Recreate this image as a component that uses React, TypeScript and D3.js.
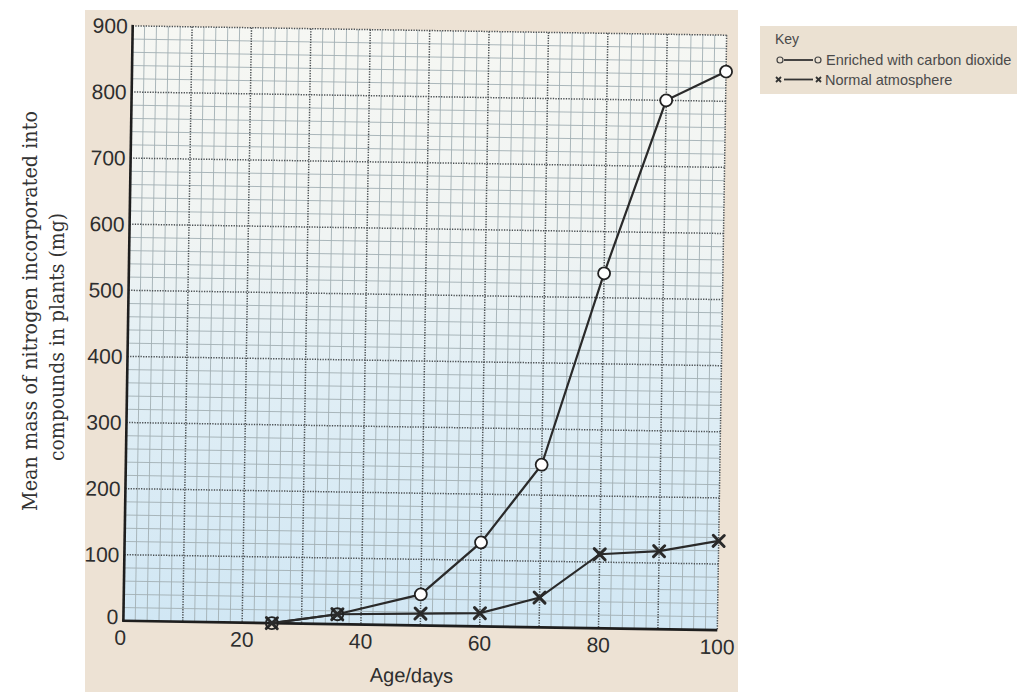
import React from "react";
import * as d3 from "d3";

const days = [25, 36, 50, 60, 70, 80, 90, 100];
const enrichedCO2 = [0, 15, 47, 127, 246, 537, 800, 845];
const normalAtmosphere = [0, 15, 18, 20, 45, 112, 118, 135];
const xTicks = [0, 20, 40, 60, 80, 100];
const yTicks = [0, 100, 200, 300, 400, 500, 600, 700, 800, 900];

const W = 1017;
const H = 692;
const L = 128, R = 722, T = 30.5, B = 625.5;
const cx = (L + R) / 2, cy = (T + B) / 2;
const ANGLE = 0.9;

export default function App() {
  const x = d3.scaleLinear().domain([0, 100]).range([L, R]);
  const y = d3.scaleLinear().domain([0, 900]).range([B, T]);
  const line = d3.line<[number, number]>().x(d => x(d[0])).y(d => y(d[1]));
  const co2Pts: [number, number][] = days.map((d, i) => [d, enrichedCO2[i]]);
  const normPts: [number, number][] = days.map((d, i) => [d, normalAtmosphere[i]]);
  const xGrid = d3.range(0, 101, 2);
  const yGrid = d3.range(0, 901, 20);
  const cross = (px: number, py: number, s: number, sw: number, k: string) => (
    <g key={k} stroke="#2a2a2a" strokeWidth={sw} strokeLinecap="round">
      <line x1={px - s} y1={py - s} x2={px + s} y2={py + s} />
      <line x1={px - s} y1={py + s} x2={px + s} y2={py - s} />
    </g>
  );
  const sans = "'Liberation Sans', Arial, sans-serif";
  return (
    <svg width={W} height={H} style={{ position: "absolute", left: 0, top: 0, display: "block" }}
      xmlns="http://www.w3.org/2000/svg">
      <defs>
        <linearGradient id="paperBlue" x1="0" y1="0" x2="0" y2="1">
          <stop offset="0%" stopColor="#f6f7f3" />
          <stop offset="35%" stopColor="#f0f4f3" />
          <stop offset="60%" stopColor="#e0eef5" />
          <stop offset="100%" stopColor="#d1e7f4" />
        </linearGradient>
      </defs>
      <rect x={0} y={0} width={W} height={H} fill="#ffffff" />
      <rect x={85} y={10} width={653} height={H - 10} fill="#ede2d4" />
      <g transform={`rotate(${ANGLE}, ${cx}, ${cy})`}>
        <rect x={L} y={T} width={R - L} height={B - T} fill="url(#paperBlue)" />
        {xGrid.filter(v => v % 10 !== 0).map(v => (
          <line key={"xm" + v} x1={x(v)} x2={x(v)} y1={T} y2={B} stroke="#a2afb4" strokeWidth={0.9} />
        ))}
        {yGrid.filter(v => v % 100 !== 0).map(v => (
          <line key={"ym" + v} x1={L} x2={R} y1={y(v)} y2={y(v)} stroke="#a2afb4" strokeWidth={0.9} />
        ))}
        {xGrid.filter(v => v % 10 === 0 && v > 0).map(v => (
          <line key={"xM" + v} x1={x(v)} x2={x(v)} y1={T} y2={B} stroke="#4a4f52" strokeWidth={1.5} strokeDasharray="1.3 1.3" />
        ))}
        {yGrid.filter(v => v % 100 === 0 && v > 0).map(v => (
          <line key={"yM" + v} x1={L} x2={R} y1={y(v)} y2={y(v)} stroke="#4a4f52" strokeWidth={1.5} strokeDasharray="1.3 1.3" />
        ))}
        <line x1={L} x2={L} y1={T - 1} y2={B + 1} stroke="#1e1e1e" strokeWidth={2.6} />
        <line x1={L - 1} x2={R} y1={B} y2={B} stroke="#1e1e1e" strokeWidth={2.6} />
        {yTicks.map(v => (
          <text key={"yt" + v} x={L - 5} y={y(v) - (v === 0 ? 4 : 0)} dy="0.36em" textAnchor="end" fontFamily={sans}
            fontSize={21} fill="#2e2e2e">{v}</text>
        ))}
        {xTicks.map(v => (
          <text key={"xt" + v} x={x(v) - (v === 0 ? 3 : 0)} y={B + 24} textAnchor="middle" fontFamily={sans}
            fontSize={21} fill="#2e2e2e">{v}</text>
        ))}
        <text x={417} y={B + 57} textAnchor="middle" fontFamily={sans} fontSize={20} fill="#2e2e2e">Age/days</text>
        <path d={line(normPts) || ""} fill="none" stroke="#2a2a2a" strokeWidth={2.2} />
        <path d={line(co2Pts) || ""} fill="none" stroke="#2a2a2a" strokeWidth={2.2} />
        {normPts.map((p, i) => cross(x(p[0]), y(p[1]), 5.5, 3, "n" + i))}
        {co2Pts.map((p, i) => (
          <circle key={"c" + i} cx={x(p[0])} cy={y(p[1])} r={6} fill="#ffffff" stroke="#222" strokeWidth={1.8}
            fillOpacity={i < 2 ? 0 : 1} />
        ))}
      </g>
      <g fontFamily="'DejaVu Serif', Georgia, serif" fontSize={20} fill="#333">
        <text transform={`translate(37, 311) rotate(-90)`} textAnchor="middle" textLength={400}
          lengthAdjust="spacingAndGlyphs">Mean mass of nitrogen incorporated into</text>
        <text transform={`translate(64, 337) rotate(-90)`} textAnchor="middle" textLength={248}
          lengthAdjust="spacingAndGlyphs">compounds in plants (mg)</text>
      </g>
      <g>
        <rect x={760} y={26} width={257} height={68} fill="#ebe1d2" />
        <text x={775} y={44} fontFamily={sans} fontSize={14} fill="#4a4a4a">Key</text>
        <circle cx={780} cy={60} r={3} fill="none" stroke="#444" strokeWidth={1.2} />
        <line x1={784} x2={813} y1={60} y2={60} stroke="#333" strokeWidth={1.8} />
        <circle cx={818} cy={60} r={3} fill="none" stroke="#444" strokeWidth={1.2} />
        <text x={826} y={65} fontFamily={sans} fontSize={14.5} fill="#4a4a4a">Enriched with carbon dioxide</text>
        <g stroke="#333" strokeWidth={1.8}>
          <line x1={776} y1={77} x2={781} y2={82} />
          <line x1={776} y1={82} x2={781} y2={77} />
          <line x1={784} x2={813} y1={79.5} y2={79.5} />
          <line x1={816} y1={77} x2={821} y2={82} />
          <line x1={816} y1={82} x2={821} y2={77} />
        </g>
        <text x={825} y={84.5} fontFamily={sans} fontSize={14.5} fill="#4a4a4a">Normal atmosphere</text>
      </g>
    </svg>
  );
}
